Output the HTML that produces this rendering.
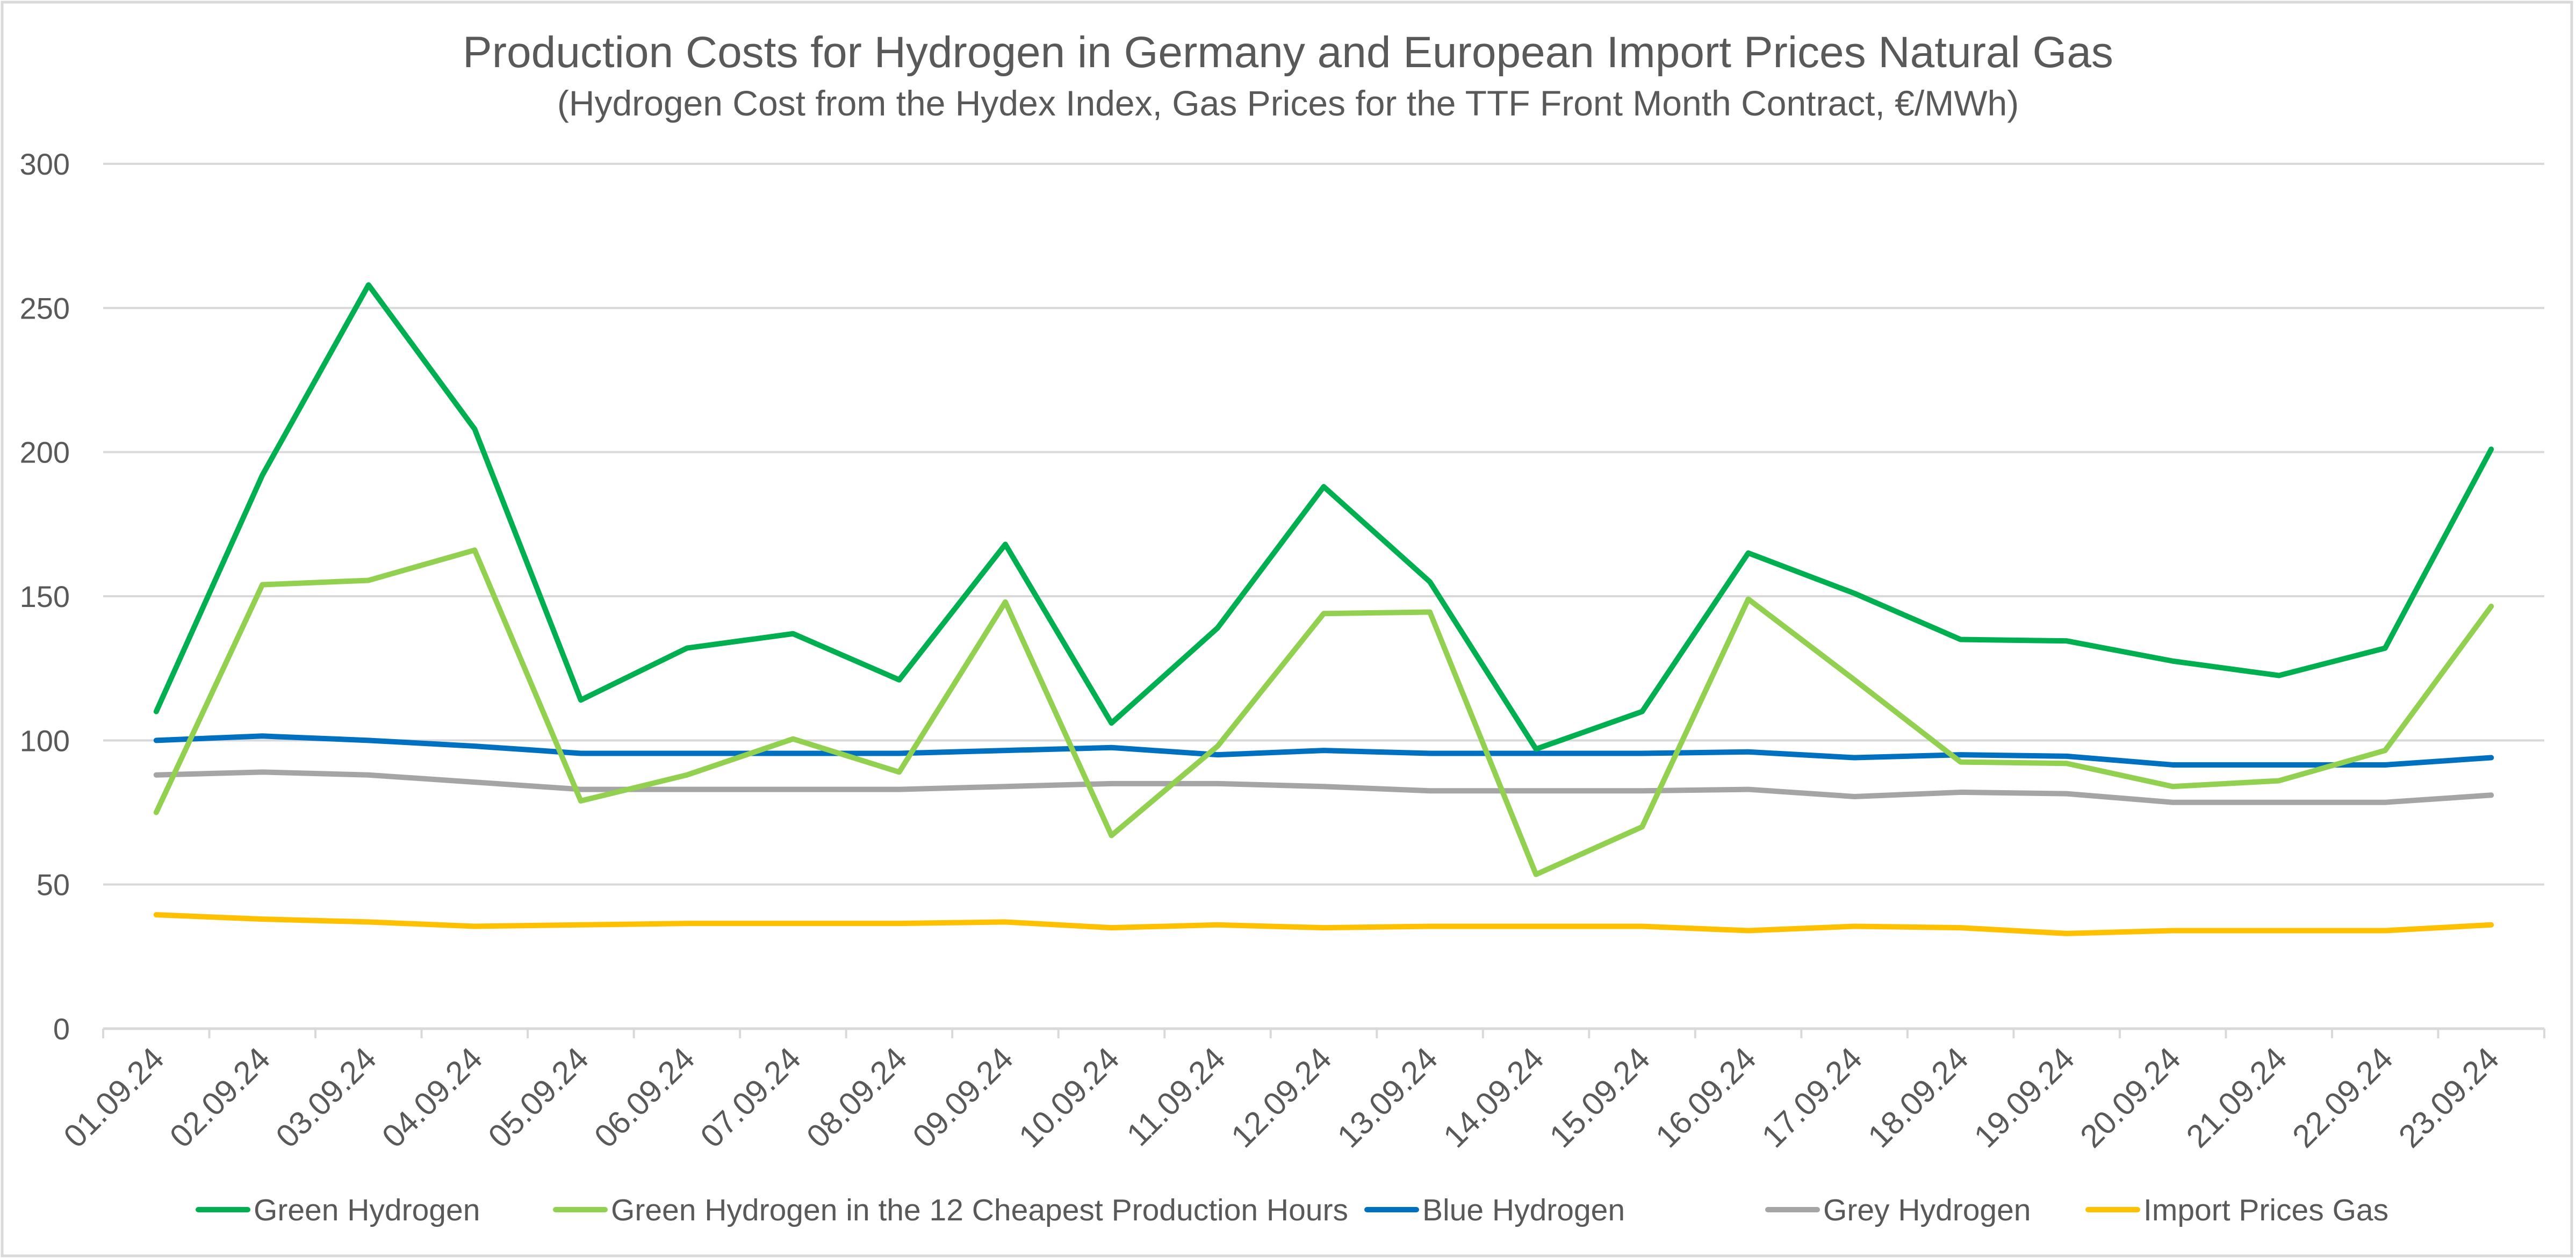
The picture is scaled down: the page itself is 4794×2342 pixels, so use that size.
<!DOCTYPE html>
<html><head><meta charset="utf-8"><style>
html,body{margin:0;padding:0;background:#fff}
svg{display:block;font-family:"Liberation Sans",sans-serif}
</style></head><body>
<svg id="chart" width="4794" height="2342" viewBox="0 0 4794 2342">
<rect x="4" y="4" width="4782" height="2334" fill="#fff" stroke="#d9d9d9" stroke-width="5"/>
<text x="2397" y="125" text-anchor="middle" font-size="82" fill="#595959">Production Costs for Hydrogen in Germany and European Import Prices Natural Gas</text>
<text x="2397" y="215" text-anchor="middle" font-size="66" fill="#595959">(Hydrogen Cost from the Hydex Index, Gas Prices for the TTF Front Month Contract, €/MWh)</text>
<g id="grid"></g><g id="xaxis"></g><g id="series"></g><g id="legend"></g>
</svg>
<script>
const categories=["01.09.24","02.09.24","03.09.24","04.09.24","05.09.24","06.09.24","07.09.24","08.09.24","09.09.24","10.09.24","11.09.24","12.09.24","13.09.24","14.09.24","15.09.24","16.09.24","17.09.24","18.09.24","19.09.24","20.09.24","21.09.24","22.09.24","23.09.24"];
const yTicks=[0,50,100,150,200,250,300];
const greenH=[110,192,258,208,114,132,137,121,168,106,139,188,155,97,110,165,151,135,134.5,127.5,122.5,132,201];
const greenCheap=[75,154,155.5,166,79,88,100.5,89,148,67,98,144,144.5,53.5,70,149,121,92.5,92,84,86,96.5,146.5];
const blueH=[100,101.5,100,98,95.5,95.5,95.5,95.5,96.5,97.5,95,96.5,95.5,95.5,95.5,96,94,95,94.5,91.5,91.5,91.5,94];
const greyH=[88,89,88,85.5,83,83,83,83,84,85,85,84,82.5,82.5,82.5,83,80.5,82,81.5,78.5,78.5,78.5,81];
const gasPrices=[39.5,38,37,35.5,36,36.5,36.5,36.5,37,35,36,35,35.5,35.5,35.5,34,35.5,35,33,34,34,34,36];
const seriesNames=["Green Hydrogen","Green Hydrogen in the 12 Cheapest Production Hours","Blue Hydrogen","Grey Hydrogen","Import Prices Gas"];

const NS="http://www.w3.org/2000/svg";
const L=192,R=4735,T=305,B=1915,yMax=300;
const step=(R-L)/categories.length;
const xS=i=>L+step*(i+0.5);
const yS=v=>B-(v/yMax)*(B-T);
function mk(tag,attrs,parent){const e=document.createElementNS(NS,tag);for(const k in attrs)e.setAttribute(k,attrs[k]);parent.appendChild(e);return e;}
const grid=document.getElementById('grid');
yTicks.forEach(t=>{
  if(t>0){const gl=mk('line',{x1:L,x2:R,y1:yS(t),y2:yS(t),stroke:'#d9d9d9','stroke-width':4},grid);
  
  }
  const tx=mk('text',{x:130,y:yS(t)+20,'text-anchor':'end','font-size':56,fill:'#595959'},grid);
  tx.textContent=t;
  
  
});
const xa=document.getElementById('xaxis');
const ax=mk('line',{x1:L,x2:R,y1:B,y2:B,stroke:'#d9d9d9','stroke-width':5},xa);


for(let i=0;i<=categories.length;i++){
  const tk=mk('line',{x1:L+step*i,x2:L+step*i,y1:B,y2:B+18,stroke:'#d9d9d9','stroke-width':4},xa);
  
  
}
categories.forEach((c,i)=>{
  const x=xS(i)+18,y=1975;
  const t=mk('text',{x:x,y:y,'text-anchor':'end','font-size':60,fill:'#595959',transform:`rotate(-45 ${x} ${y})`},xa);
  t.textContent=c;
  
  
});
const colors=["#00B050","#92D050","#0070C0","#A5A5A5","#FFC000"];
const allSeries=[greenH,greenCheap,blueH,greyH,gasPrices];
const sg=document.getElementById('series');
const order=[4,3,2,1,0];
order.forEach(s=>{
  const pts=allSeries[s].map((v,i)=>xS(i)+','+yS(v)).join(' ');
  const pl=mk('polyline',{points:pts,fill:'none',stroke:colors[s],'stroke-width':10,'stroke-linejoin':'round','stroke-linecap':'round'},sg);
  
  
});
const lg=document.getElementById('legend');
const lx=[369,1034,2544,3290,3886];
seriesNames.forEach((n,s)=>{
  const ln=mk('line',{x1:lx[s],x2:lx[s]+92,y1:2252,y2:2252,stroke:colors[s],'stroke-width':10,'stroke-linecap':'round'},lg);
  
  
  const t=mk('text',{x:lx[s]+103,y:2272,'font-size':57,fill:'#595959'},lg);
  t.textContent=n;
  
  
});
</script>
</body></html>
